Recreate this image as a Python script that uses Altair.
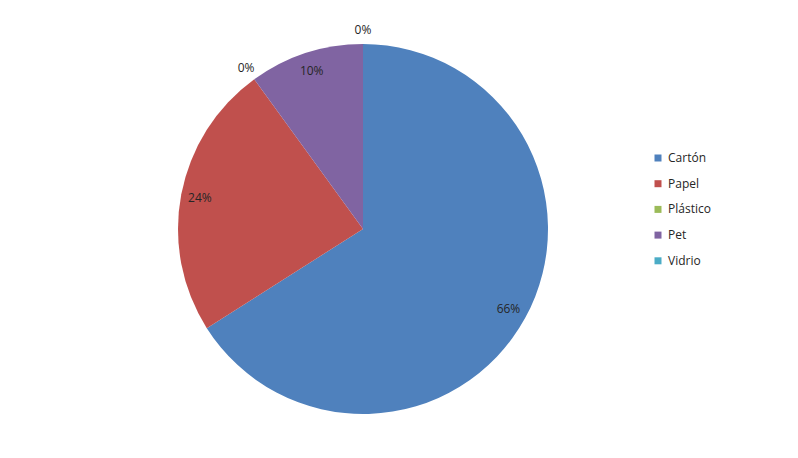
import altair as alt
import pandas as pd

categories = ["Cartón", "Papel", "Plástico", "Pet", "Vidrio"]
values = [66, 24, 0, 10, 0]
labels = ["66%", "24%", "0%", "10%", "0%"]
colors = ["#4F81BD", "#C0504D", "#9BBB59", "#8064A2", "#4BACC6"]

df = pd.DataFrame({
    "cat": categories,
    "value": values,
    "label": labels,
    "idx": list(range(len(categories))),
})

FONT = "Open Sans"
CX, CY = 355, 221

arcs = alt.Chart(df).mark_arc(outerRadius=185).encode(
    theta=alt.Theta("value:Q", stack=True),
    order=alt.Order("idx:Q"),
    color=alt.Color(
        "cat:N",
        scale=alt.Scale(domain=categories, range=colors),
        sort=categories,
        legend=alt.Legend(
            title=None,
            orient="none",
            legendX=644,
            legendY=144,
            padding=0,
            symbolType="square",
            symbolSize=49,
            symbolStrokeWidth=0,
            labelFont=FONT,
            labelFontSize=12,
            labelColor="#262626",
            labelOffset=4,
            rowPadding=13.7,
        ),
    ),
    x=alt.value(CX),
    y=alt.value(CY),
)

texts = alt.Chart(df).transform_window(
    cum="sum(value)", sort=[alt.SortField("idx")], frame=[None, 0]
).transform_joinaggregate(
    total="sum(value)"
).transform_calculate(
    mid="(datum.cum - datum.value / 2) / datum.total * 2 * PI",
    lr="datum.value > 0 ? 166 : 199",
).mark_text(font=FONT, fontSize=12, color="#262626").encode(
    text="label:N",
    theta=alt.Theta("mid:Q", scale=None),
    radius=alt.Radius("lr:Q", scale=None),
    x=alt.value(CX),
    y=alt.value(CY),
)

chart = alt.layer(arcs, texts).properties(
    width=782,
    height=442,
    autosize=alt.AutoSizeParams(type="none"),
    padding=0,
    background="white",
).configure_view(stroke="transparent", strokeWidth=0)

chart.save("out.html", embed_options={"renderer": "svg", "actions": False})
